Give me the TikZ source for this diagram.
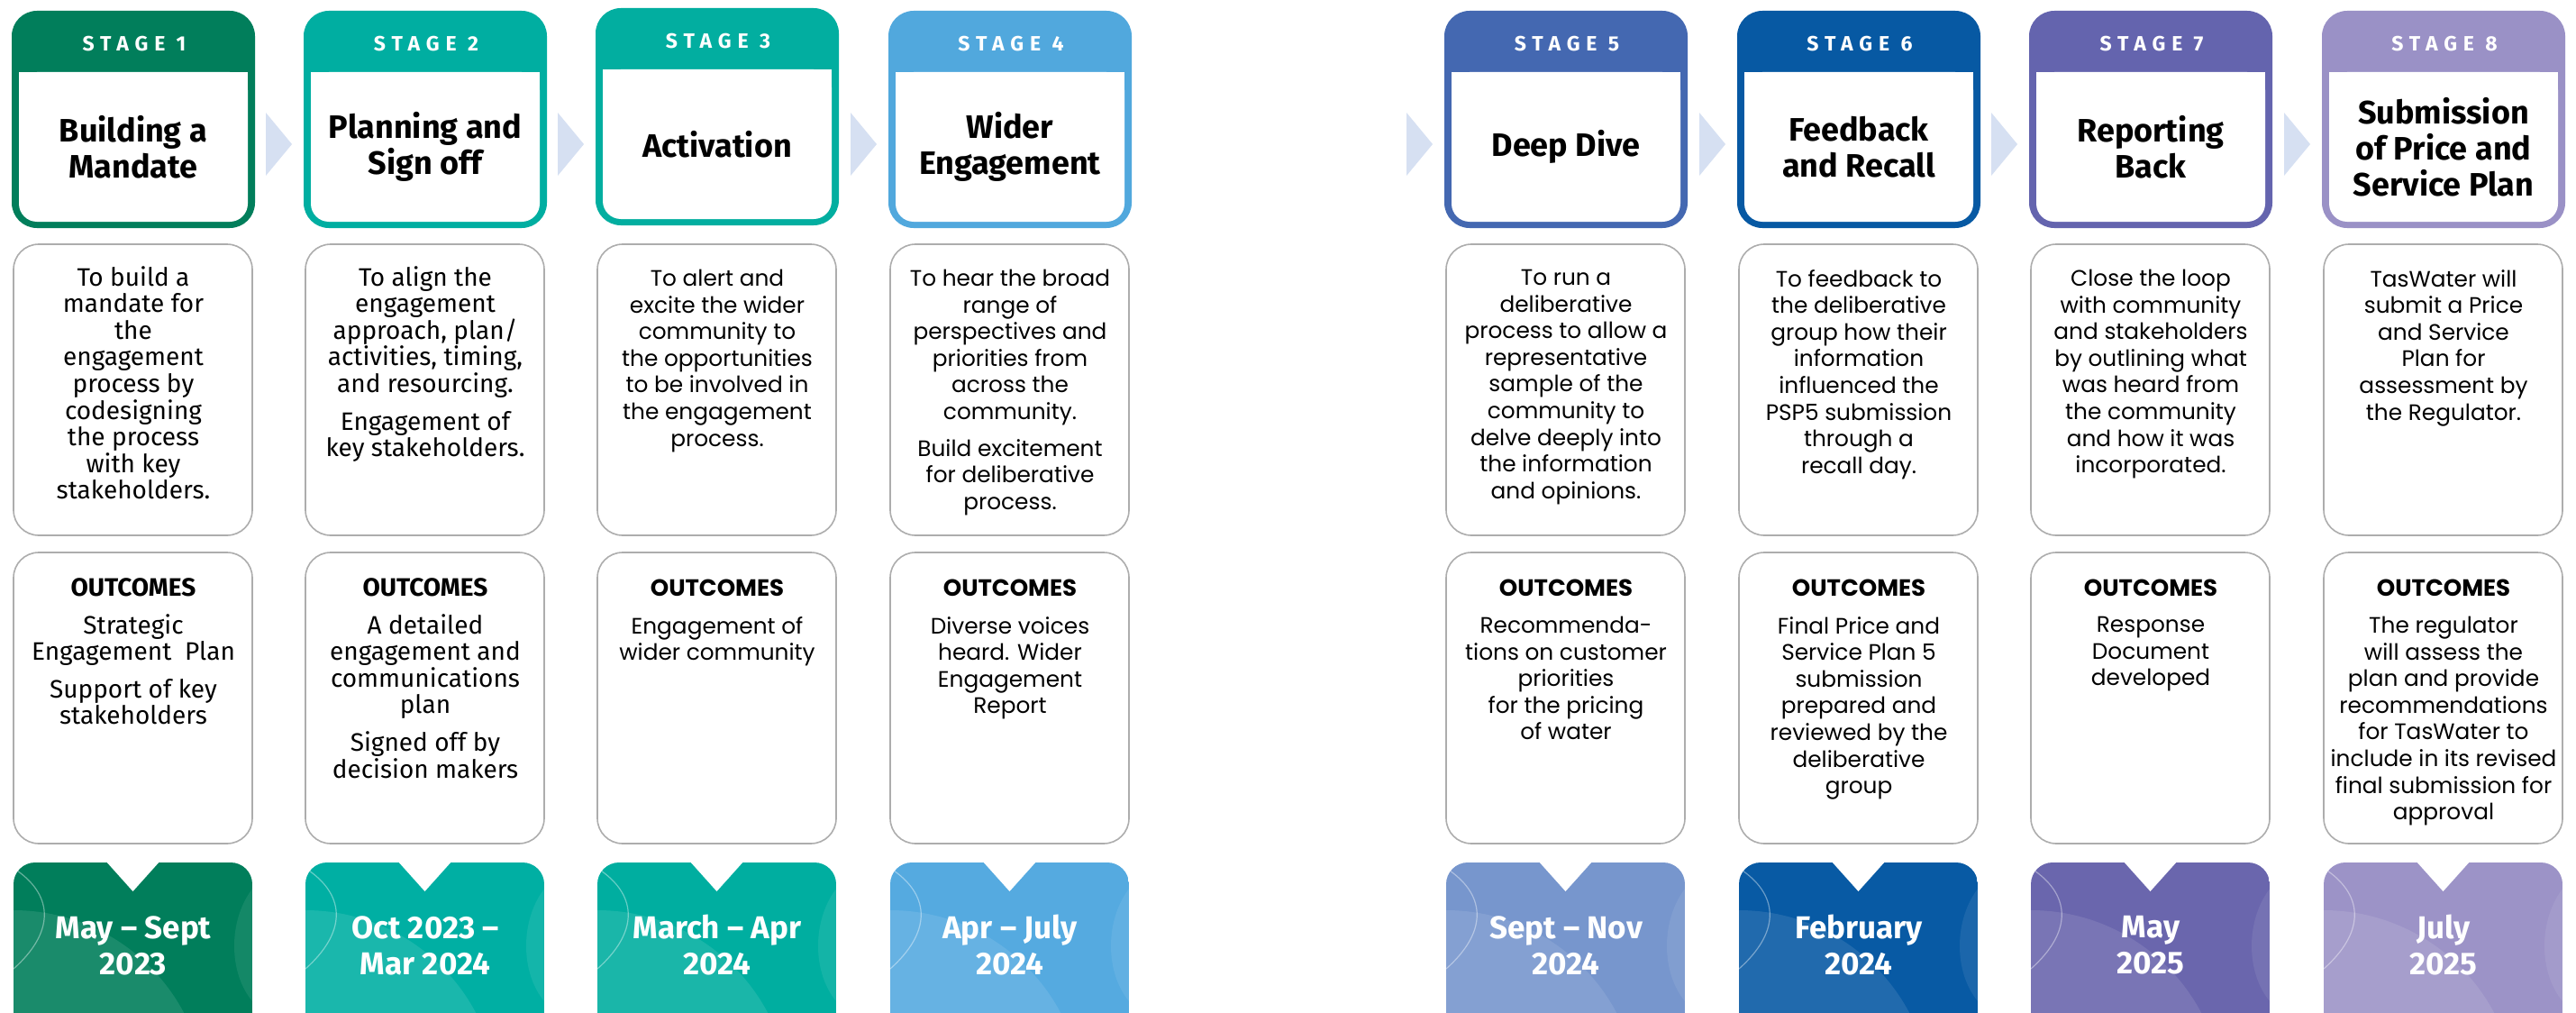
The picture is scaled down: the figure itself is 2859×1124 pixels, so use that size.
\documentclass[tikz,border=0pt]{standalone}
\usepackage{fontspec}
\setmainfont{Poppins}
\newfontfamily\firafont{Fira Sans}
\newfontfamily\stagefont[LetterSpace=30]{Fira Sans}
\definecolor{h1}{HTML}{017E5B}
\definecolor{h2}{HTML}{00AEA1}
\definecolor{h3}{HTML}{02AEA0}
\definecolor{h4}{HTML}{51A8DD}
\definecolor{h5}{HTML}{4468B1}
\definecolor{h6}{HTML}{0759A3}
\definecolor{h7}{HTML}{6464AE}
\definecolor{h8}{HTML}{9A91C6}
\definecolor{d1}{HTML}{017E5B}
\definecolor{d2}{HTML}{00AFA3}
\definecolor{d3}{HTML}{00AEA0}
\definecolor{d4}{HTML}{55AAE0}
\definecolor{d5}{HTML}{7796CD}
\definecolor{d6}{HTML}{085AA4}
\definecolor{d7}{HTML}{6A66AD}
\definecolor{d8}{HTML}{9C93C7}
\definecolor{chevc}{HTML}{D6E0F2}
\definecolor{boxline}{HTML}{ADADAD}
\newcommand\bodyA{\firafont\fontsize{28}{29.6}\selectfont}
\newcommand\headA{\firafont\bfseries\fontsize{28}{30}\selectfont}
\newcommand\bodyB{\fontsize{24.8}{29.6}\selectfont}
\newcommand\headB{\bfseries\fontsize{26}{30}\selectfont}
\tikzset{
  graybox/.style={draw=boxline, line width=1.6pt, fill=white, rounded corners=28pt},
  chevron/.style={fill=chevc},
  stagelbl/.style={text=white, inner sep=0pt, font=\stagefont\bfseries\fontsize{23}{24}\selectfont},
  titletext/.style={text=black, inner sep=0pt, align=center, font=\firafont\bfseries\fontsize{36}{40}\selectfont},
  desctext/.style={text=black, inner sep=0pt, align=center, anchor=north, font=\curbody},
  outhead/.style={text=black, inner sep=0pt, font=\curhead},
  datetext/.style={text=white, inner sep=0pt, align=center, font=\firafont\bfseries\fontsize{35}{40}\selectfont},
}
% #1 idx, #2 left x, #3 header colour, #4 date colour, #5 title, #6 desc, #7 outcomes, #8 date
\newcommand\stagecol[8]{%
  % header box
  \fill[#3, rounded corners=28pt] (#2,12+\hoff) rectangle (#2+270,253+\hoff);
  \fill[white, rounded corners=20pt] (#2+8,80+\hoff) rectangle (#2+262,246+\hoff);
  \fill[white] (#2+8,80+\hoff) rectangle (#2+262,120+\hoff);
  \node[stagelbl] (s#1) at (#2+136,49+\hoff) {STAGE #1};
  \node[titletext] (t#1) at (#2+135,163+\hoff) {#5};
  % description box
  \path[graybox] (#2+2,271) rectangle (#2+267,594);
  \node[desctext] (p#1) at (#2+135,\dtop) {#6};
  % outcomes box
  \path[graybox] (#2+2,613) rectangle (#2+267,936);
  \node[outhead] (o#1) at (#2+135,652) {OUTCOMES};
  \node[desctext] (q#1) at (#2+135,\otop) {#7};
  % date box
  \begin{scope}
    \clip[rounded corners=24pt] (#2+2,957) rectangle (#2+267,1160);
    \fill[#4] (#2+2,957) rectangle (#2+267,1160);
    \fill[white, opacity=.1] (#2+2,1224) circle (214);
    \fill[white, opacity=.08] (#2+268,985) .. controls (#2+240,1020) and (#2+240,1080) .. (#2+268,1112) -- cycle;
    \draw[white, opacity=.4, line width=1.2pt] (#2+6,966) .. controls (#2+47,995) and (#2+47,1035) .. (#2+2,1075);
  \end{scope}
  \fill[white] (#2+104,955) -- (#2+165,955) -- (#2+134.5,989) -- cycle;
  \node[datetext] (dt#1) at (#2+135,1049) {#8};
}
\newcommand\chev[1]{\fill[chevc] (#1-42,125) -- (#1-13,160) -- (#1-42,195) -- cycle;}
\begin{document}
\begin{tikzpicture}[x=1pt,y=-1pt]
\useasboundingbox[fill=white] (0,0) rectangle (2859,1124);
\def\hoff{0}
\def\dtop{295}\def\otop{681}
\let\curbody\bodyA \let\curhead\headA
\stagecol{1}{13}{h1}{d1}{Building a\\Mandate}
 {To build a\\mandate for\\the\\engagement\\process by\\codesigning\\the process\\with key\\stakeholders.}
 {Strategic\\Engagement\ \ Plan\\[12pt]Support of key\\stakeholders}
 {May – Sept\\2023}
\stagecol{2}{337}{h2}{d2}{Planning and\\Sign off}
 {To align the\\engagement\\approach, plan/\\activities, timing,\\and resourcing.\\[12pt]Engagement of\\key stakeholders.}
 {A detailed\\engagement and\\communications\\plan\\[12pt]Signed off by\\decision makers}
 {Oct 2023 –\\Mar 2024}
\let\curbody\bodyB \let\curhead\headB
\def\dtop{299}\def\otop{684}
\def\hoff{-3}
\stagecol{3}{661}{h3}{d3}{Activation}
 {To alert and\\excite the wider\\community to\\the opportunities\\to be involved in\\the engagement\\process.}
 {Engagement of\\wider community}
 {March – Apr\\2024}
\def\hoff{0}
\stagecol{4}{986}{h4}{d4}{Wider\\Engagement}
 {To hear the broad\\range of\\perspectives and\\priorities from\\across the\\community.\\[11pt]Build excitement\\for deliberative\\process.}
 {Diverse voices\\heard. Wider\\Engagement\\Report}
 {Apr – July\\2024}
\stagecol{5}{1603}{h5}{d5}{Deep Dive}
 {To run a\\deliberative\\process to allow a\\representative\\sample of the\\community to\\delve deeply into\\the information\\and opinions.}
 {Recommenda-\\tions on customer\\priorities\\for the pricing\\of water}
 {Sept – Nov\\2024}
\stagecol{6}{1928}{h6}{d6}{Feedback\\and Recall}
 {To feedback to\\the deliberative\\group how their\\information\\influenced the\\PSP5 submission\\through a\\recall day.}
 {Final Price and\\Service Plan 5\\submission\\prepared and\\reviewed by the\\deliberative\\group}
 {February\\2024}
\stagecol{7}{2252}{h7}{d7}{Reporting\\Back}
 {Close the loop\\with community\\and stakeholders\\by outlining what\\was heard from\\the community\\and how it was\\incorporated.}
 {Response\\Document\\developed}
 {May\\2025}
\stagecol{8}{2577}{h8}{d8}{Submission\\of Price and\\Service Plan}
 {TasWater will\\submit a Price\\and Service\\Plan for\\assessment by\\the Regulator.}
 {The regulator\\will assess the\\plan and provide\\recommendations\\for TasWater to\\include in its revised\\final submission for\\approval}
 {July\\2025}
\chev{337}\chev{661}\chev{986}\chev{1603}\chev{1928}\chev{2252}\chev{2577}
\end{tikzpicture}
\end{document}
